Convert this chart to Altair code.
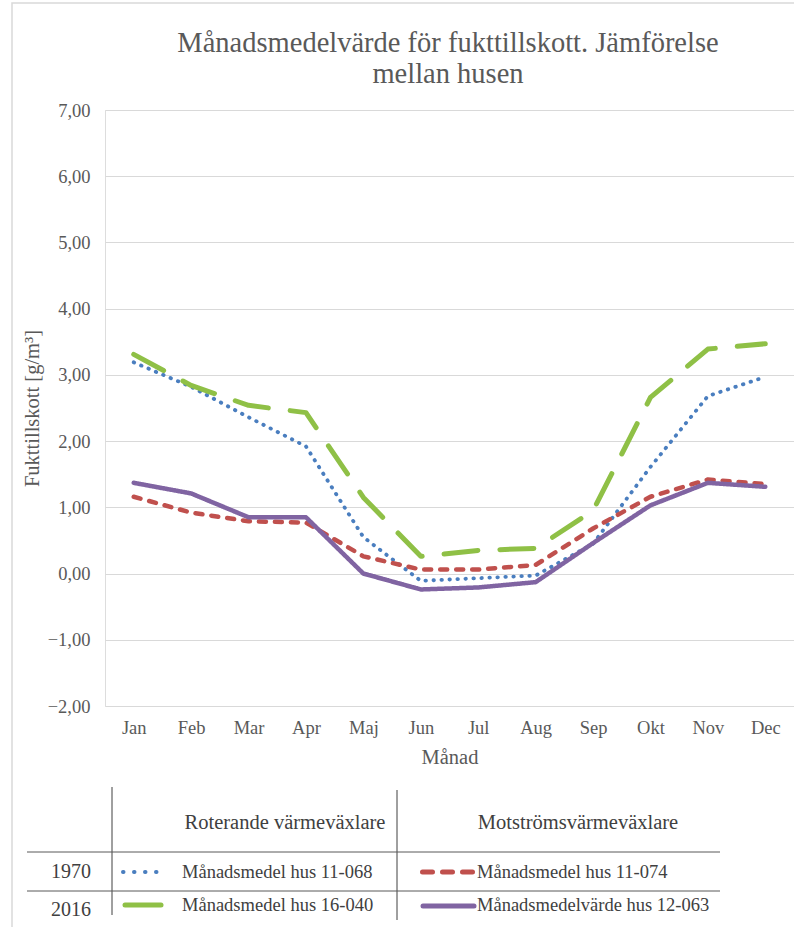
import altair as alt
import pandas as pd

months = ["Jan", "Feb", "Mar", "Apr", "Maj", "Jun", "Jul", "Aug", "Sep", "Okt", "Nov", "Dec"]
h11_068 = [3.19, 2.82, 2.36, 1.92, 0.55, -0.11, -0.07, -0.03, 0.45, 1.61, 2.68, 2.97]
h11_074 = [1.16, 0.92, 0.79, 0.77, 0.26, 0.06, 0.06, 0.13, 0.68, 1.16, 1.42, 1.35]
h16_040 = [3.31, 2.84, 2.54, 2.43, 1.15, 0.26, 0.35, 0.38, 0.95, 2.66, 3.39, 3.47]
h12_063 = [1.37, 1.21, 0.85, 0.85, 0.00, -0.24, -0.21, -0.13, 0.46, 1.03, 1.37, 1.31]

series_names = ["Månadsmedel hus 11-068", "Månadsmedel hus 11-074",
                "Månadsmedel hus 16-040", "Månadsmedelvärde hus 12-063"]
series_values = [h11_068, h11_074, h16_040, h12_063]
title_lines = ["Månadsmedelvärde för fukttillskott. Jämförelse", "mellan husen"]
col_headers = ["Roterande värmeväxlare", "Motströmsvärmeväxlare"]
row_headers = ["1970", "2016"]

colors = ["#4a7ebf", "#c0504d", "#8fc046", "#8064a2"]
dashes = [[0.5, 7.5], [7, 9], [34, 22], [1, 0]]
widths = [3.8, 4.5, 5, 4.5]

rows = []
for name, vals in zip(series_names, series_values):
    for m, v in zip(months, vals):
        rows.append({"Månad": m, "value": v, "serie": name})
df = pd.DataFrame(rows)
one = pd.DataFrame({"k": [0]})

FONT = "Liberation Serif"
TXT = "#404040"
GRAY = "#595959"

base = alt.Chart(df)

lines = []
for name, col, dsh, w in zip(series_names, colors, dashes, widths):
    lines.append(
        base.transform_filter(alt.datum.serie == name).mark_line(
            color=col, strokeDash=dsh, strokeWidth=w, strokeCap="round", strokeJoin="round"
        ).encode(
            x=alt.X("Månad:N", sort=months, scale=alt.Scale(type="point", padding=0.5),
                    axis=alt.Axis(title="Månad", labelAngle=0, ticks=False, domain=False,
                                  labelPadding=12, titlePadding=11, labelFontSize=18.5,
                                  titleFontSize=20.5, labelColor=GRAY, titleColor=GRAY,
                                  labelFont=FONT, titleFont=FONT, titleFontWeight="normal")),
            y=alt.Y("value:Q", scale=alt.Scale(domain=[-2, 7], nice=False, zero=False),
                    axis=alt.Axis(title="Fukttillskott [g/m³]", values=list(range(-2, 8)),
                                  labelExpr="replace(format(datum.value, '.2f'), '.', ',')",
                                  ticks=False, domain=False, gridColor="#d9d9d9",
                                  labelPadding=15, titlePadding=5, labelFontSize=18.5,
                                  titleFontSize=20.5, labelColor=GRAY, titleColor=GRAY,
                                  labelFont=FONT, titleFont=FONT, titleFontWeight="normal")),
        )
    )

# layout elements (positions relative to plot origin)
deco = []
def rule(x, x2, y, y2, color="#404040", width=1, dash=None, cap="butt"):
    kw = dict(color=color, strokeWidth=width, strokeCap=cap)
    if dash is not None:
        kw["strokeDash"] = dash
    return alt.Chart(one).mark_rule(**kw).encode(
        x=alt.value(x), x2=alt.value(x2), y=alt.value(y), y2=alt.value(y2))

def txt(s, x, y, align="left", size=18.5, color=TXT):
    return alt.Chart(one).mark_text(
        text=s, font=FONT, fontSize=size, color=color, align=align, baseline="middle"
    ).encode(x=alt.value(x), y=alt.value(y))

# title
deco.append(txt(title_lines[0], 343, -67, align="center", size=28.5, color=GRAY))
deco.append(txt(title_lines[1], 343, -36, align="center", size=28.5, color=GRAY))

# table
deco.append(rule(7, 7, 677, 805))
deco.append(rule(292, 292, 680, 810))
deco.append(rule(-78, 615, 742, 742, color="#595959"))
deco.append(rule(-78, 615, 781, 781, color="#595959"))
deco.append(txt(col_headers[0], 180, 713, align="center", size=20.5))
deco.append(txt(col_headers[1], 473, 713, align="center", size=20.5))
deco.append(txt(row_headers[0], -34, 762, align="center", size=20))
deco.append(txt(row_headers[1], -34, 800, align="center", size=20))
deco.append(rule(18, 62, 762, 762, color=colors[0], width=4, dash=[0.5, 10.5], cap="round"))
deco.append(rule(317.5, 368, 762, 762, color=colors[1], width=5, dash=[10, 10], cap="round"))
deco.append(rule(20, 56, 795, 795, color=colors[2], width=5, cap="round"))
deco.append(rule(318, 369, 796, 796, color=colors[3], width=5, cap="round"))
deco.append(txt(series_names[0], 77, 762))
deco.append(txt(series_names[1], 372, 762))
deco.append(txt(series_names[2], 77, 795))
deco.append(txt(series_names[3], 372, 795))
# chart-area border
border = alt.Chart(one).mark_rect(fill=None, stroke="#d9d9d9", strokeWidth=1.5).encode(
    x=alt.value(-93), x2=alt.value(720), y=alt.value(-107), y2=alt.value(840))

chart = alt.layer(border, *lines, *deco).properties(
    width=689, height=596,
    autosize=alt.AutoSizeParams(type="none"),
    padding={"left": 105, "top": 110, "right": 0, "bottom": 221},
).configure_view(stroke=None).configure(background="white")

chart.save("out.html", embed_options={"renderer": "svg", "actions": False})
